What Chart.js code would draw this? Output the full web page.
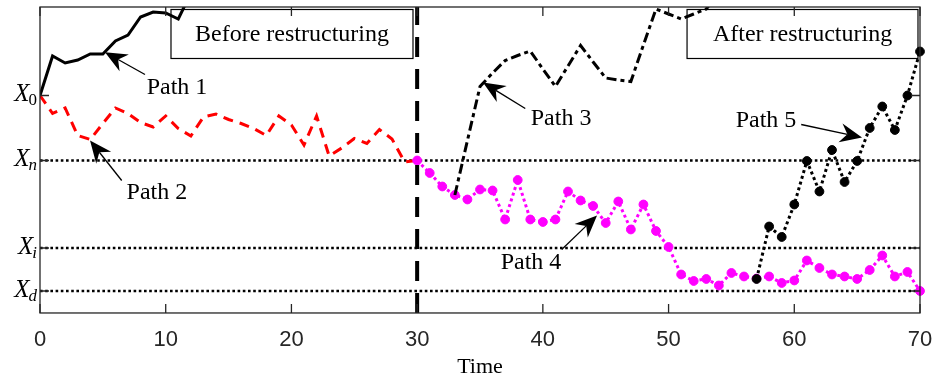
<!DOCTYPE html>
<html><head><meta charset="utf-8">
<script src="https://cdn.jsdelivr.net/npm/chart.js@4.4.0/dist/chart.umd.min.js"></script>
<style>html,body{margin:0;padding:0;background:#fff;}#wrap{width:934px;height:379px;}</style>
</head><body><div id="wrap"><canvas id="c" width="934" height="379"></canvas></div>
<script>
// ---- data (y in arbitrary units, bottom = 0, top = 306) ----
const xTicks = [0, 10, 20, 30, 40, 50, 60, 70];
const levelNames = ['0', 'n', 'i', 'd'];
const levelValues = [217.5, 152.5, 65, 22];
const restructureTime = 30;

const path1Start = 0;
const path1 = [217.5, 257, 250, 253, 259, 259, 272, 278, 296, 301, 300, 294, 320];

const path2Start = 0;
const path2 = [217.5, 199.5, 205, 177.5, 173.5, 189.5, 205, 199.5, 190.5, 186, 197, 184.5, 177, 196, 199,
  193.5, 189.5, 184.5, 177.5, 197, 188, 168, 197, 157, 165, 174.5, 169.5, 183.5, 174, 151, 152.5];

const path3Start = 33;
const path3 = [118, 172.5, 226.5, 240, 252.5, 257.5, 262, 244, 226.5, 247, 267.5, 251, 235, 233, 231.5,
  268, 304, 299, 294, 299, 304, 320];

const path4Start = 30;
const path4 = [152.5, 140, 126.5, 118, 113.5, 123.5, 122.5, 93.5, 133, 93.5, 91, 93.5, 121.5, 112.5, 107,
  90, 111.5, 83.5, 108.5, 82, 66, 38.5, 32, 34, 27.5, 40, 36.5, 34.5, 36.5, 30, 32.5, 52.5, 45, 38.5, 36.5,
  34, 43, 57.5, 36.5, 41, 22];

const path5Start = 57;
const path5 = [34, 86.5, 76, 108.5, 152, 121.5, 163, 131, 152, 185, 206.5, 183, 217.5, 261.5];

const pathLabels = ['Path 1', 'Path 2', 'Path 3', 'Path 4', 'Path 5'];
const boxLabels = ['Before restructuring', 'After restructuring'];
const axisTitle = 'Time';

// ---- build ----
const pts = (start, arr) => arr.map((v, i) => ({x: start + i, y: v}));
const Y_MIN = 0, Y_MAX = 306;

const refDatasets = levelValues.slice(1).map(v => ({
  data: [{x: 0, y: v}, {x: 70, y: v}], borderColor: '#000', borderWidth: 2.6,
  borderDash: [2.6, 2.6], pointRadius: 0, order: 8, clip: 0
}));

// annotation placements (data coords)
const annotations = [
  {text: pathLabels[0], at: [10.9, 225.5], from: [8.35, 238.5], to: [5.17, 260.8]},
  {text: pathLabels[1], at: [9.3, 120.5], from: [6.5, 132.5], to: [3.98, 172.5]},
  {text: pathLabels[2], at: [41.45, 194.5], from: [38.6, 204.5], to: [35.24, 230.5]},
  {text: pathLabels[3], at: [39.06, 50.5], from: [41.5, 63.5], to: [44.31, 97.5]},
  {text: pathLabels[4], at: [57.75, 192.5], from: [60.55, 188.5], to: [65.39, 175.5]}
];
const boxes = [
  {text: boxLabels[0], t0: 10.42, t1: 29.67, v0: 254.5, v1: 303.5},
  {text: boxLabels[1], t0: 51.47, t1: 69.84, v0: 254.5, v1: 303.5}
];

const decor = {
  id: 'decor',
  afterDatasetsDraw(chart) {
    const {ctx, scales: {x, y}} = chart;
    ctx.save();
    ctx.lineWidth = 1.2; ctx.strokeStyle = '#000';
    ctx.font = '24px "Liberation Serif"'; ctx.fillStyle = '#000';
    ctx.textAlign = 'center'; ctx.textBaseline = 'middle';
    boxes.forEach(b => {
      const x0 = x.getPixelForValue(b.t0), x1 = x.getPixelForValue(b.t1);
      const y0 = y.getPixelForValue(b.v1), y1 = y.getPixelForValue(b.v0);
      ctx.strokeRect(x0, y0, x1 - x0, y1 - y0);
      ctx.fillText(b.text, (x0 + x1) / 2, (y0 + y1) / 2 + 1);
    });
    annotations.forEach(an => {
      const tx = x.getPixelForValue(an.from[0]), ty = y.getPixelForValue(an.from[1]);
      const hx = x.getPixelForValue(an.to[0]), hy = y.getPixelForValue(an.to[1]);
      const dx = hx - tx, dy = hy - ty, len = Math.hypot(dx, dy);
      const ux = dx / len, uy = dy / len, nx = -uy, ny = ux;
      const L = 22, W = 19, N = 15;
      ctx.lineWidth = 1.3; ctx.strokeStyle = '#000';
      ctx.beginPath(); ctx.moveTo(tx, ty); ctx.lineTo(hx - ux * N, hy - uy * N); ctx.stroke();
      ctx.beginPath();
      ctx.moveTo(hx, hy);
      ctx.lineTo(hx - ux * L + nx * W / 2, hy - uy * L + ny * W / 2);
      ctx.lineTo(hx - ux * N, hy - uy * N);
      ctx.lineTo(hx - ux * L - nx * W / 2, hy - uy * L - ny * W / 2);
      ctx.closePath(); ctx.fillStyle = '#000'; ctx.fill();
      ctx.fillText(an.text, x.getPixelForValue(an.at[0]), y.getPixelForValue(an.at[1]));
    });
    ctx.restore();
  },
  afterDraw(chart) {
    const {ctx, chartArea: a, scales: {x, y}} = chart;
    ctx.save();
    ctx.strokeStyle = '#262626'; ctx.lineWidth = 1.3;
    ctx.strokeRect(a.left, a.top, a.right - a.left, a.bottom - a.top);
    ctx.beginPath();
    xTicks.forEach(t => {
      const px = x.getPixelForValue(t);
      ctx.moveTo(px, a.bottom); ctx.lineTo(px, a.bottom - 9);
      ctx.moveTo(px, a.top); ctx.lineTo(px, a.top + 9);
    });
    levelValues.forEach(v => {
      const py = y.getPixelForValue(v);
      ctx.moveTo(a.left, py); ctx.lineTo(a.left + 9, py);
      ctx.moveTo(a.right, py); ctx.lineTo(a.right - 9, py);
    });
    ctx.stroke();
    ctx.fillStyle = '#000'; ctx.textBaseline = 'alphabetic'; ctx.textAlign = 'left';
    levelValues.forEach((v, i) => {
      const py = y.getPixelForValue(v);
      const sub = levelNames[i];
      const subFont = (sub === '0' ? '' : 'italic ') + '17px "Liberation Serif"';
      ctx.font = subFont; const sw = ctx.measureText(sub).width;
      ctx.font = 'italic 25px "Liberation Serif"'; const xw = ctx.measureText('X').width;
      const right = a.left - 3;
      const xs = right - sw - xw + 1;
      ctx.fillText('X', xs, py + 6);
      ctx.font = subFont;
      ctx.fillText(sub, right - sw, py + 10);
    });
    ctx.restore();
  }
};

new Chart(document.getElementById('c'), {
  type: 'line',
  data: {
    datasets: [
      {data: [{x: restructureTime, y: Y_MIN}, {x: restructureTime, y: Y_MAX}], borderColor: '#000',
        borderWidth: 4, borderDash: [20, 12], pointRadius: 0, order: 0, clip: 0},
      {data: pts(path5Start, path5), borderColor: '#000', borderWidth: 3, borderDash: [3, 3],
        pointRadius: 4.4, pointBackgroundColor: '#000', pointBorderColor: '#000', pointBorderWidth: 1,
        order: 1, clip: false},
      {data: pts(path3Start, path3), borderColor: '#000', borderWidth: 3, borderDash: [10, 4, 4, 4],
        pointRadius: 0, order: 2, clip: {left: 0, top: 0, right: 0, bottom: 0}},
      {data: pts(path4Start, path4), borderColor: '#ff00ff', borderWidth: 3, borderDash: [3, 3],
        pointRadius: 4.4, pointBackgroundColor: '#ff00ff', pointBorderColor: '#ff00ff', pointBorderWidth: 1,
        order: 3, clip: false},
      {data: pts(path1Start, path1), borderColor: '#000', borderWidth: 3, pointRadius: 0, order: 4,
        clip: {left: 0, top: 0, right: 0, bottom: 0}},
      {data: pts(path2Start, path2), borderColor: '#ff0000', borderWidth: 3, borderDash: [10, 7],
        pointRadius: 0, order: 5, clip: 0},
      ...refDatasets
    ]
  },
  options: {
    responsive: false, animation: false, devicePixelRatio: 1,
    layout: {padding: {left: 40, right: 14, top: 7, bottom: 0}},
    plugins: {legend: {display: false}, tooltip: {enabled: false}},
    elements: {line: {tension: 0, borderCapStyle: 'butt', borderJoinStyle: 'miter'}},
    scales: {
      x: {
        type: 'linear', min: 0, max: 70, position: 'bottom',
        grid: {display: false, drawTicks: false}, border: {display: false},
        afterBuildTicks: s => { s.ticks = xTicks.map(v => ({value: v})); },
        afterFit: s => { s.paddingLeft = 0; s.paddingRight = 0; },
        ticks: {padding: 16, color: '#262626', font: {family: '"Liberation Sans"', size: 22, lineHeight: 1}, maxRotation: 0},
        title: {display: true, text: axisTitle, color: '#000', padding: {top: 0, bottom: 12},
          font: {family: '"Liberation Serif"', size: 22, lineHeight: 0.001}}
      },
      y: {type: 'linear', min: Y_MIN, max: Y_MAX, display: false}
    }
  },
  plugins: [decor]
});
</script>
</body></html>
